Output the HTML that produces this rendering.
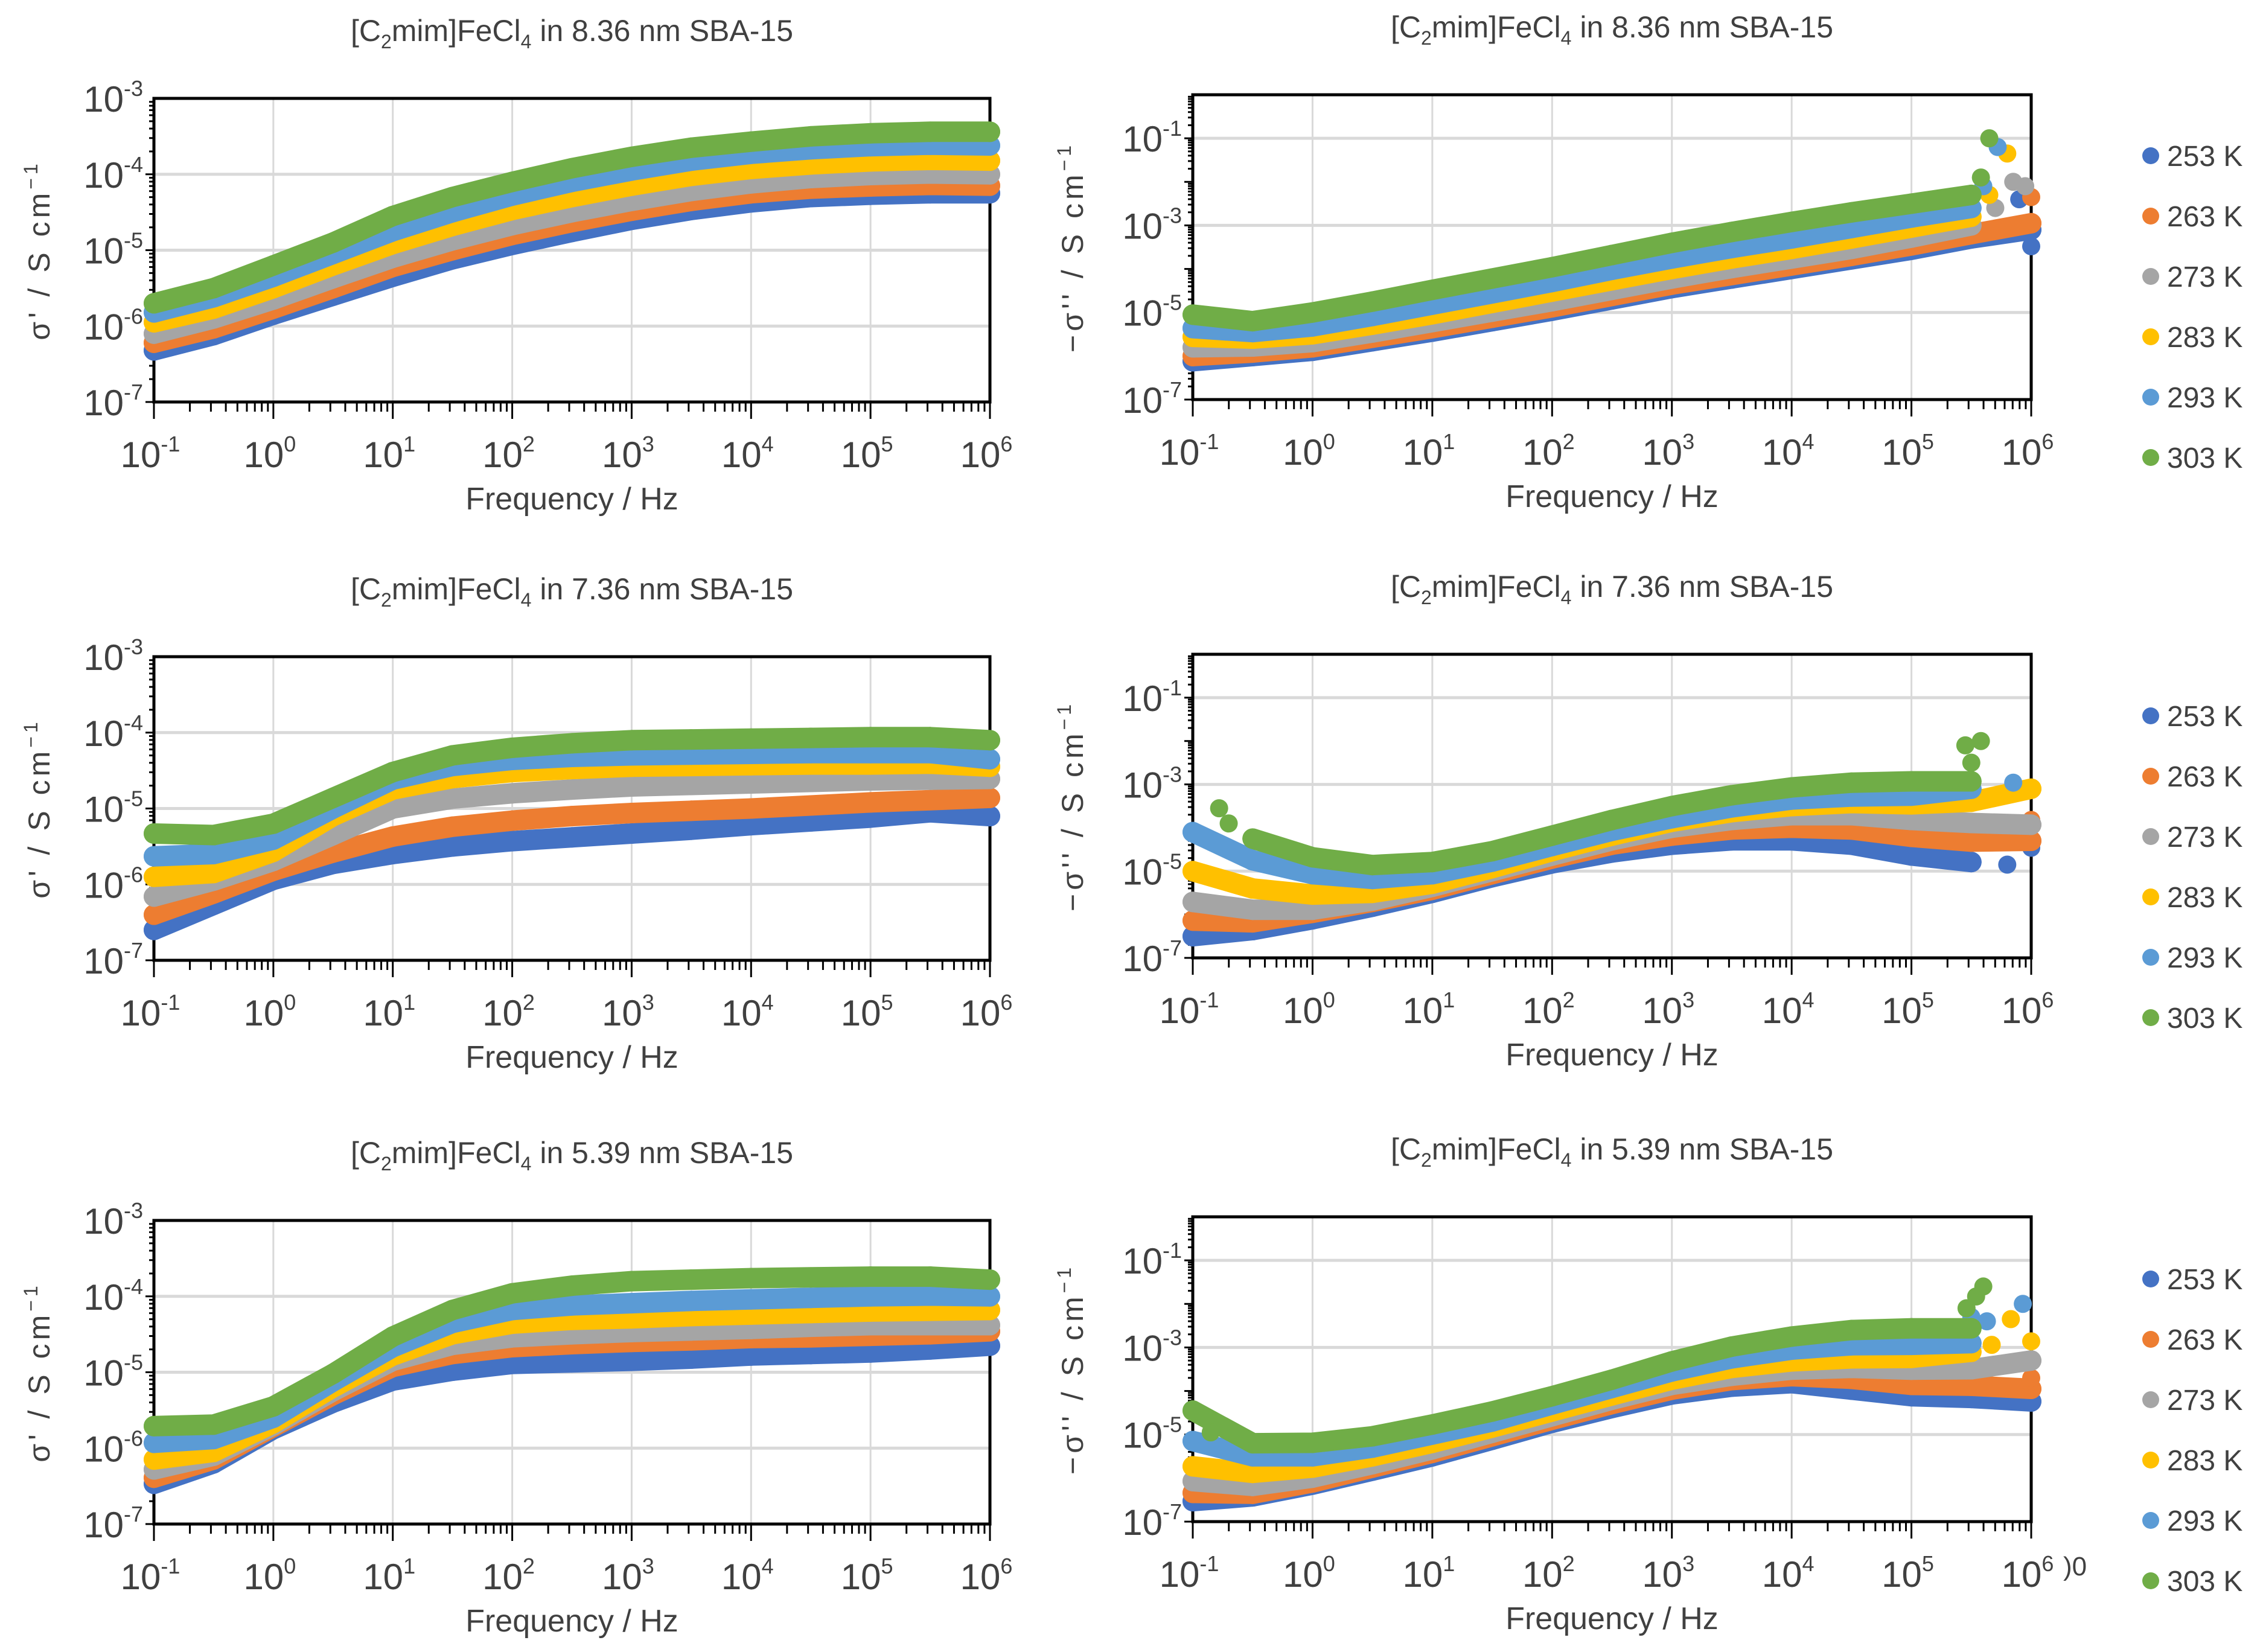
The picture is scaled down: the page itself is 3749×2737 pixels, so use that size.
<!DOCTYPE html>
<html><head><meta charset="utf-8"><style>
html,body{margin:0;padding:0;background:#fff;}
svg{display:block;font-family:"Liberation Sans",sans-serif;}
</style></head><body>
<svg id="fig" width="3749" height="2737" viewBox="0 0 3749 2737" xmlns="http://www.w3.org/2000/svg"></svg>
<script>
// ---- data (log10 of conductivity) at log10 frequency grid ----
const logFreq = [-1,-0.5,0,0.5,1,1.5,2,2.5,3,3.5,4,4.5,5,5.5,6];
const temps = ["253 K","263 K","273 K","283 K","293 K","303 K"];
const colors = ["#4472C4","#ED7D31","#A5A5A5","#FFC000","#5B9BD5","#70AD47"];
const xTickExps = [-1,0,1,2,3,4,5,6];

// Panel A: 8.36 nm sigma'
const a253=[-6.32,-6.12,-5.85,-5.6,-5.35,-5.12,-4.93,-4.76,-4.6,-4.47,-4.37,-4.3,-4.27,-4.25,-4.25];
const a263=[-6.22,-6.03,-5.77,-5.5,-5.22,-5.0,-4.8,-4.63,-4.48,-4.35,-4.25,-4.19,-4.16,-4.14,-4.15];
const a273=[-6.1,-5.9,-5.65,-5.37,-5.1,-4.87,-4.67,-4.5,-4.35,-4.22,-4.12,-4.05,-4.01,-3.99,-4.0];
const a283=[-5.95,-5.77,-5.5,-5.2,-4.92,-4.68,-4.47,-4.3,-4.15,-4.02,-3.93,-3.87,-3.83,-3.81,-3.82];
const a293=[-5.82,-5.62,-5.35,-5.05,-4.75,-4.5,-4.28,-4.1,-3.95,-3.82,-3.73,-3.67,-3.63,-3.61,-3.62];
const a303=[-5.7,-5.5,-5.2,-4.9,-4.55,-4.3,-4.1,-3.92,-3.77,-3.65,-3.57,-3.5,-3.46,-3.44,-3.44];
// Panel B: 8.36 nm -sigma''
const b253=[-6.12,-6.0,-5.88,-5.66,-5.44,-5.2,-4.96,-4.7,-4.44,-4.22,-4.0,-3.78,-3.56,-3.3,-3.1];
const b263=[-6.0,-5.92,-5.8,-5.58,-5.36,-5.12,-4.88,-4.62,-4.36,-4.14,-3.92,-3.7,-3.46,-3.2,-2.95];
const b273=[-5.8,-5.78,-5.68,-5.46,-5.22,-4.98,-4.74,-4.48,-4.22,-3.98,-3.76,-3.54,-3.28,-3.0,null];
const b283=[-5.56,-5.6,-5.5,-5.28,-5.04,-4.78,-4.52,-4.26,-4.0,-3.76,-3.54,-3.3,-3.05,-2.8,null];
const b293=[-5.36,-5.45,-5.32,-5.08,-4.82,-4.56,-4.3,-4.02,-3.76,-3.52,-3.3,-3.06,-2.82,-2.6,null];
const b303=[-5.05,-5.2,-5.0,-4.75,-4.48,-4.22,-3.96,-3.68,-3.4,-3.15,-2.92,-2.7,-2.5,-2.3,null];
const bOut253=[[5.9,-2.4],[6,-3.48]];
const bOut263=[[6,-2.35]];
const bOut273=[[5.7,-2.6],[5.85,-2.0],[5.95,-2.1]];
const bOut283=[[5.65,-2.3],[5.8,-1.35]];
const bOut293=[[5.6,-2.1],[5.72,-1.2]];
const bOut303=[[5.58,-1.9],[5.65,-1.0]];
// Panel C: 7.36 nm sigma'
const c253=[-6.6,-6.27,-5.94,-5.73,-5.6,-5.5,-5.43,-5.38,-5.33,-5.28,-5.22,-5.17,-5.12,-5.05,-5.1];
const c263=[-6.4,-6.12,-5.82,-5.58,-5.37,-5.24,-5.16,-5.1,-5.06,-5.03,-5.0,-4.96,-4.92,-4.89,-4.86];
const c273=[-6.16,-5.95,-5.69,-5.35,-5.0,-4.87,-4.8,-4.75,-4.71,-4.69,-4.67,-4.65,-4.63,-4.62,-4.61];
const c283=[-5.9,-5.85,-5.57,-5.1,-4.75,-4.6,-4.52,-4.48,-4.45,-4.44,-4.43,-4.42,-4.42,-4.41,-4.45];
const c293=[-5.63,-5.6,-5.41,-5.0,-4.62,-4.44,-4.36,-4.32,-4.3,-4.29,-4.28,-4.27,-4.27,-4.27,-4.35];
const c303=[-5.33,-5.35,-5.2,-4.86,-4.52,-4.3,-4.2,-4.14,-4.1,-4.09,-4.08,-4.07,-4.06,-4.06,-4.1];
// Panel D: 7.36 nm -sigma''
const d253=[-6.5,-6.36,-6.11,-5.82,-5.5,-5.14,-4.82,-4.57,-4.39,-4.29,-4.29,-4.39,-4.64,-4.79,null];
const d263=[-6.14,-6.18,-5.96,-5.71,-5.43,-5.07,-4.71,-4.39,-4.18,-4.04,-4.0,-4.04,-4.21,-4.32,-4.3];
const d273=[-5.71,-5.89,-5.89,-5.68,-5.36,-5.0,-4.64,-4.29,-4.0,-3.82,-3.71,-3.71,-3.82,-3.89,-3.93];
const d283=[-5.0,-5.4,-5.54,-5.5,-5.29,-4.93,-4.54,-4.18,-3.86,-3.64,-3.5,-3.43,-3.46,-3.4,-3.1];
const d293=[-4.1,-4.75,-5.07,-5.18,-5.07,-4.78,-4.42,-4.07,-3.78,-3.53,-3.35,-3.28,-3.26,-3.1,null];
const d303=[null,-4.25,-4.68,-4.86,-4.79,-4.54,-4.18,-3.82,-3.5,-3.25,-3.07,-2.96,-2.93,-2.93,null];
const dOut253=[[5.8,-4.85],[6,-4.46]];
const dOut263=[[6,-3.82]];
const dOut273=[];
const dOut283=[];
const dOut293=[[5.85,-2.96]];
const dOut303=[[-0.78,-3.55],[-0.7,-3.9],[5.45,-2.1],[5.58,-2.0],[5.5,-2.5]];
// Panel E: 5.39 nm sigma'
const e253=[-6.47,-6.2,-5.75,-5.4,-5.11,-4.98,-4.89,-4.87,-4.85,-4.82,-4.78,-4.76,-4.74,-4.7,-4.65];
const e263=[-6.39,-6.15,-5.72,-5.3,-4.93,-4.76,-4.67,-4.63,-4.6,-4.58,-4.55,-4.54,-4.52,-4.5,-4.46];
const e273=[-6.28,-6.1,-5.7,-5.25,-4.85,-4.64,-4.54,-4.5,-4.47,-4.45,-4.43,-4.4,-4.38,-4.38,-4.38];
const e283=[-6.15,-6.05,-5.67,-5.2,-4.78,-4.5,-4.36,-4.31,-4.29,-4.26,-4.24,-4.22,-4.2,-4.19,-4.18];
const e293=[-5.93,-5.88,-5.6,-5.12,-4.67,-4.35,-4.18,-4.12,-4.09,-4.06,-4.04,-4.02,-4.0,-3.99,-4.0];
const e303=[-5.71,-5.69,-5.45,-5.02,-4.53,-4.18,-3.96,-3.86,-3.8,-3.78,-3.76,-3.75,-3.74,-3.74,-3.78];
// Panel F: 5.39 nm -sigma''
const f253=[-6.53,-6.42,-6.15,-5.83,-5.5,-5.12,-4.73,-4.39,-4.08,-3.9,-3.82,-3.97,-4.12,-4.16,-4.24];
const f263=[-6.34,-6.36,-6.1,-5.76,-5.42,-5.04,-4.66,-4.3,-3.97,-3.75,-3.66,-3.72,-3.86,-3.88,-3.95];
const f273=[-6.07,-6.18,-5.99,-5.68,-5.34,-4.96,-4.58,-4.2,-3.86,-3.65,-3.51,-3.47,-3.51,-3.5,-3.3];
const f283=[-5.73,-5.88,-5.76,-5.5,-5.19,-4.84,-4.47,-4.1,-3.74,-3.47,-3.32,-3.25,-3.24,-3.1,null];
const f293=[-5.15,-5.5,-5.5,-5.3,-5.0,-4.7,-4.31,-3.93,-3.55,-3.25,-3.05,-2.95,-2.94,-2.9,null];
const f303=[-4.45,-5.2,-5.19,-5.04,-4.77,-4.47,-4.12,-3.74,-3.32,-2.98,-2.75,-2.6,-2.56,-2.56,null];
const fOut253=[];
const fOut263=[[6,-3.7]];
const fOut273=[];
const fOut283=[[5.67,-2.94],[5.83,-2.35],[6,-2.86]];
const fOut293=[[5.5,-2.3],[5.63,-2.4],[5.93,-2.0]];
const fOut303=[[-0.85,-4.95],[5.46,-2.1],[5.54,-1.83],[5.6,-1.6]];

const titlesNm = ["8.36","7.36","5.39"];

const NS="http://www.w3.org/2000/svg";
const svg=document.getElementById('fig');
function mk(tag,attrs,parent){const e=document.createElementNS(NS,tag);for(const k in attrs)e.setAttribute(k,attrs[k]);(parent||svg).appendChild(e);return e;}

const panels=[
 {id:'a',series:[a253,a263,a273,a283,a293,a303],out:null,left:true,row:0,top:163,bot:666},
 {id:'b',series:[b253,b263,b273,b283,b293,b303],out:[bOut253,bOut263,bOut273,bOut283,bOut293,bOut303],left:false,row:0,top:157,bot:662},
 {id:'c',series:[c253,c263,c273,c283,c293,c303],out:null,left:true,row:1,top:1088,bot:1591},
 {id:'d',series:[d253,d263,d273,d283,d293,d303],out:[dOut253,dOut263,dOut273,dOut283,dOut293,dOut303],left:false,row:1,top:1084,bot:1587},
 {id:'e',series:[e253,e263,e273,e283,e293,e303],out:null,left:true,row:2,top:2022,bot:2525},
 {id:'f',series:[f253,f263,f273,f283,f293,f303],out:[fOut253,fOut263,fOut273,fOut283,fOut293,fOut303],left:false,row:2,top:2016,bot:2521},
];

panels.forEach(p=>{
  const x0=p.left?255:1976, x1=p.left?1640:3365;
  const ymin=-7, ymax=p.left?-3:0;
  const X=v=>x0+(v-(-1))/7*(x1-x0);
  const Y=v=>p.bot-(v-ymin)/(ymax-ymin)*(p.bot-p.top);
  const g=mk('g',{});
  
  
  const cx=(x0+x1)/2;
  const tt=mk('text',{x:cx,y:p.top-95,'text-anchor':'middle','font-size':50,fill:'#404040'},g);
  
  
  tt.innerHTML='[C<tspan font-size="32" dy="12">2</tspan><tspan dy="-12">mim]FeCl</tspan><tspan font-size="32" dy="12">4</tspan><tspan dy="-12">  in '+titlesNm[p.row]+' nm SBA-15</tspan>';
  for(const e of xTickExps){ if(e===-1) continue;
    const l=mk('line',{x1:X(e),x2:X(e),y1:p.top,y2:p.bot,stroke:'#d9d9d9','stroke-width':3},g);
    
    
  }
  const yLabs=p.left?[-7,-6,-5,-4,-3]:[-7,-5,-3,-1];
  for(const e of yLabs){ if(e===-7||e===ymax) continue;
    const l=mk('line',{x1:x0,x2:x1,y1:Y(e),y2:Y(e),stroke:'#d9d9d9','stroke-width':5},g);
    
    
  }
  const fr=mk('rect',{x:x0,y:p.top,width:x1-x0,height:p.bot-p.top,fill:'none',stroke:'#000','stroke-width':5},g);
  
  
  for(let d=-1;d<6;d++){
    for(let m=1;m<10;m++){
      const xv=X(d+Math.log10(m));
      mk('line',{x1:xv,x2:xv,y1:p.bot,y2:p.bot+(m===1?28:16),stroke:'#000','stroke-width':3},g);
    }
  }
  mk('line',{x1:x1,x2:x1,y1:p.bot,y2:p.bot+28,stroke:'#000','stroke-width':3},g);
  for(let d=ymin;d<ymax;d++){
    for(let m=1;m<10;m++){
      const yv=Y(d+Math.log10(m));
      mk('line',{x1:x0,x2:x0-(m===1?14:8),y1:yv,y2:yv,stroke:'#000','stroke-width':3},g);
    }
  }
  for(const e of xTickExps){
    const t=mk('text',{x:X(e)-6,y:p.bot+108,'text-anchor':'middle','font-size':60,fill:'#404040'},g);
    
    
    t.innerHTML='10<tspan font-size="36" dy="-26">'+e+'</tspan>';
  }
  for(const e of yLabs){
    const t=mk('text',{x:x0-18,y:Y(e)+22,'text-anchor':'end','font-size':60,fill:'#404040'},g);
    
    
    t.innerHTML='10<tspan font-size="36" dy="-26">'+e+'</tspan>';
  }
  const xt=mk('text',{x:cx,y:p.bot+178,'text-anchor':'middle','font-size':52,fill:'#404040'},g);
  
  
  xt.textContent='Frequency / Hz';
  const yx=p.left?82:1794, ym=(p.top+p.bot)/2;
  const yt=mk('text',{x:yx,y:ym,'text-anchor':'middle','font-size':50,'letter-spacing':6,fill:'#404040',transform:'rotate(-90 '+yx+' '+ym+')'},g);
  
  
  yt.innerHTML=(p.left?'σ\'':'−σ\'\'')+' / S cm<tspan font-size="32" dy="-20">−1</tspan>';
  p.series.forEach((vals,si)=>{
    const sg=mk('g',{},g);
    
    
    let seg=[];
    const flush=()=>{ if(seg.length>1){
        const pl=mk('polyline',{points:seg.join(' '),fill:'none',stroke:colors[si],'stroke-width':34,'stroke-linejoin':'round','stroke-linecap':'round'},sg);
        
        
      } seg=[]; };
    vals.forEach((v,i)=>{
      if(v===null){flush();return;}
      seg.push(X(logFreq[i]).toFixed(1)+','+Y(v).toFixed(1));
      const c=mk('circle',{cx:X(logFreq[i]),cy:Y(v),r:17,fill:colors[si]},sg);
      
      
    });
    flush();
    if(p.out){ p.out[si].forEach(pt=>{
      const c=mk('circle',{cx:X(pt[0]),cy:Y(pt[1]),r:15,fill:colors[si]},sg);
      
      
    });}
  });
  if(!p.left){
    const lg=mk('g',{},g);
    
    
    const ly0=[258,1186,2119][p.row];
    temps.forEach((t,i)=>{
      const y=ly0+i*100;
      const c=mk('circle',{cx:3563,cy:y,r:14,fill:colors[i]},lg);
      
      
      const tx=mk('text',{x:3590,y:y+17,'font-size':48,fill:'#404040'},lg);
      
      
      tx.textContent=t;
    });
  }
});
const art=mk('text',{x:3418,y:2610,'font-size':44,fill:'#404040'});


art.textContent=')0';
</script>
</body></html>
